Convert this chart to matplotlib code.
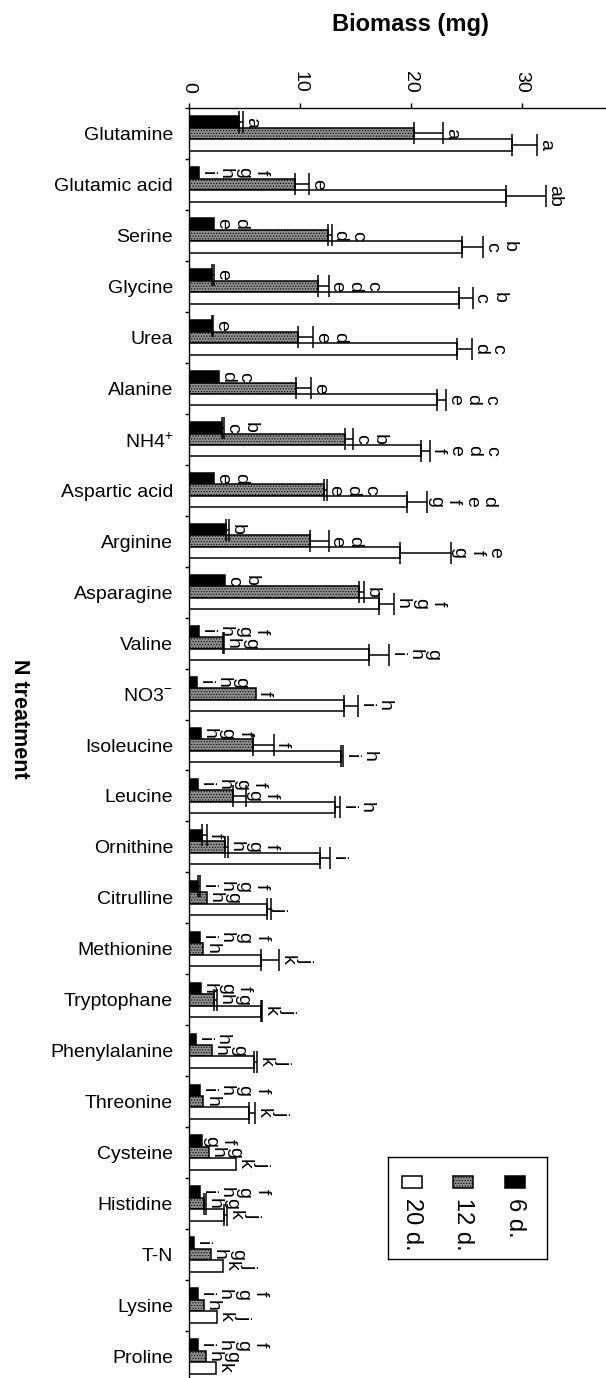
import matplotlib
matplotlib.use('Agg')
import matplotlib.pyplot as plt
import numpy as np
from matplotlib.patches import Rectangle

plt.rcParams['font.family'] = ['Liberation Sans', 'DejaVu Sans']
plt.rcParams['mathtext.fontset'] = 'custom'
plt.rcParams['mathtext.rm'] = 'Liberation Sans'
plt.rcParams['hatch.linewidth'] = 0.5
plt.rcParams['hatch.color'] = '#2a2a2a'

categories = ['Glutamine', 'Glutamic acid', 'Serine', 'Glycine', 'Urea', 'Alanine',
              r'NH4$^{+}$', 'Aspartic acid', 'Arginine', 'Asparagine', 'Valine',
              r'NO3$^{-}$', 'Isoleucine', 'Leucine', 'Ornithine', 'Citrulline',
              'Methionine', 'Tryptophane', 'Phenylalanine', 'Threonine', 'Cysteine',
              'Histidine', 'T-N', 'Lysine', 'Proline']

series_names = ['6 d.', '12 d.', '20 d.']

d6 = [4.5, 0.93, 2.28, 2.04, 2.04, 2.7, 3.0, 2.28, 3.3, 3.28, 0.93, 0.7, 1.08,
      0.78, 1.2, 0.78, 1.0, 1.05, 0.63, 1.0, 1.2, 1.0, 0.48, 0.84, 0.84]
d6_err = [0.4, 0, 0, 0.2, 0.15, 0, 0.15, 0, 0.3, 0, 0, 0, 0,
          0, 0.4, 0.2, 0, 0, 0, 0, 0, 0, 0, 0, 0]
d12 = [20.3, 9.56, 12.5, 11.6, 9.86, 9.65, 14.1, 12.2, 10.9, 15.3, 3.1, 6.0, 5.8,
       4.0, 3.25, 1.6, 1.3, 2.25, 2.1, 1.3, 1.8, 1.35, 2.0, 1.35, 1.5]
d12_err = [2.6, 1.3, 0.36, 1.0, 1.35, 1.35, 0.7, 0.2, 1.7, 0.5, 0.06, 0, 1.9,
           1.1, 0.25, 0, 0, 0.25, 0, 0, 0, 0.15, 0, 0, 0]
d20 = [29.1, 28.6, 24.6, 24.35, 24.2, 22.4, 20.9, 19.7, 19.0, 17.1, 16.2, 14.0, 13.7,
       13.2, 11.8, 7.06, 6.5, 6.5, 5.86, 5.44, 4.2, 3.2, 3.04, 2.55, 2.43]
d20_err = [2.3, 3.6, 1.95, 1.23, 1.3, 0.8, 0.8, 1.8, 4.6, 1.4, 1.8, 1.2, 0.15,
           0.45, 0.9, 0.3, 1.6, 0.1, 0.25, 0.5, 0, 0.2, 0, 0, 0]

# significance letters; tokens separated by spaces, first token placed farthest right
lab6 = ['a', 'f g h i', 'd e', 'e', 'e', 'c d', 'b c', 'd e', 'b', 'b c', 'f g h i',
        'g h i', 'f g h', 'f g h i', 'f', 'f g h i', 'f g h i', 'f g h', 'h i',
        'f g h i', 'f g', 'f g h i', 'i', 'f g h i', 'f g h i']
lab12 = ['a', 'e', 'c d', 'c d e', 'd e', 'e', 'b c', 'c d e', 'd e', 'b', 'g h',
         'f', 'f', 'f g', 'f g h', 'g h', 'h', 'g h', 'g h', 'h', 'g h', 'g h',
         'g h', 'h', 'g h']
lab20 = ['a', 'ab', 'b c', 'b c', 'c d', 'c d e', 'c d e f', 'd e f g', 'e f g',
         'f g h', 'g h i', 'h i', 'h i', 'h i', 'i', 'j', 'j k', 'j k', 'j k', 'j k',
         'j k', 'j k', 'j k', 'j k', 'k']

W, H = 606, 1378
fig = plt.figure(figsize=(W / 100, H / 100), dpi=100)
ax = fig.add_axes([189 / W, -4 / H, 417 / W, 1274 / H])

y = np.arange(len(categories))
bh = 0.225
styles = [dict(facecolor='black', edgecolor='black'),
          dict(facecolor='#8e8e8e', edgecolor='black', hatch='......'),
          dict(facecolor='white', edgecolor='black')]
vals = [d6, d12, d20]
errs = [d6_err, d12_err, d20_err]
labs = [lab6, lab12, lab20]
offs = [-bh, 0.0, bh]

for v, e, lb, off, st in zip(vals, errs, labs, offs, styles):
    v = np.array(v, float)
    e = np.array(e, float)
    yy = y + off
    ax.barh(yy, v, height=bh, linewidth=1.1, zorder=2, **st)
    m = e > 0
    ax.errorbar(v[m], yy[m], xerr=[np.zeros(m.sum()), e[m]], fmt='none',
                ecolor='black', elinewidth=1.1, capsize=8, capthick=1.1, zorder=3)
    for xi, yi, ei, s in zip(v, yy, e, lb):
        toks = s.split()
        n = len(toks)
        for k, t in enumerate(toks):
            pos = n - 1 - k
            ax.annotate(t, xy=(xi + ei, yi), xytext=(6.0 + 12.8 * pos, 0),
                        textcoords='offset points', rotation=-90,
                        ha='center', va='center', fontsize=14, zorder=4)

ax.set_xlim(0, 417 / 11.09)
ax.set_ylim(len(categories) - 0.5, -0.5)

ax.xaxis.tick_top()
ax.set_xticks([0, 10, 20, 30])
ax.tick_params(axis='x', which='major', labelrotation=-90, labelsize=14,
               length=3.8, width=1, pad=7, direction='out')

ax.set_yticks(np.arange(-0.5, len(categories), 1.0))
ax.set_yticklabels([])
ax.tick_params(axis='y', which='major', length=3, width=1, direction='out')
ax.set_yticks(y, minor=True)
ax.set_yticklabels(categories, minor=True)
ax.tick_params(axis='y', which='minor', length=0, pad=11.5, labelsize=14)

for s in ['right', 'bottom']:
    ax.spines[s].set_visible(False)
for s in ['top', 'left']:
    ax.spines[s].set_linewidth(1.0)

fig.text(410 / W, 1 - 24 / H, 'Biomass (mg)', ha='center', va='center',
         fontsize=17, fontweight='bold')
fig.text(19 / W, 1 - 719 / H, 'N treatment', rotation=-90, ha='center',
         va='center', fontsize=15.5, fontweight='bold')

# legend (rotated layout)
lx0, ly0, lw_, lh_ = 388, 1157, 159, 102
lax = fig.add_axes([lx0 / W, 1 - (ly0 + lh_) / H, lw_ / W, lh_ / H])
lax.set_xlim(0, lw_)
lax.set_ylim(lh_, 0)
lax.set_xticks([])
lax.set_yticks([])
for s in lax.spines.values():
    s.set_linewidth(1.0)
patch_x = [117, 65, 14]
for px, st, name in zip(patch_x, styles, series_names):
    lax.add_patch(Rectangle((px, 19), 20, 12, linewidth=1.1, **st))
    lax.text(px + 10, 41, name, rotation=-90, ha='center', va='top', fontsize=17)

fig.savefig('out.png', dpi=100)
